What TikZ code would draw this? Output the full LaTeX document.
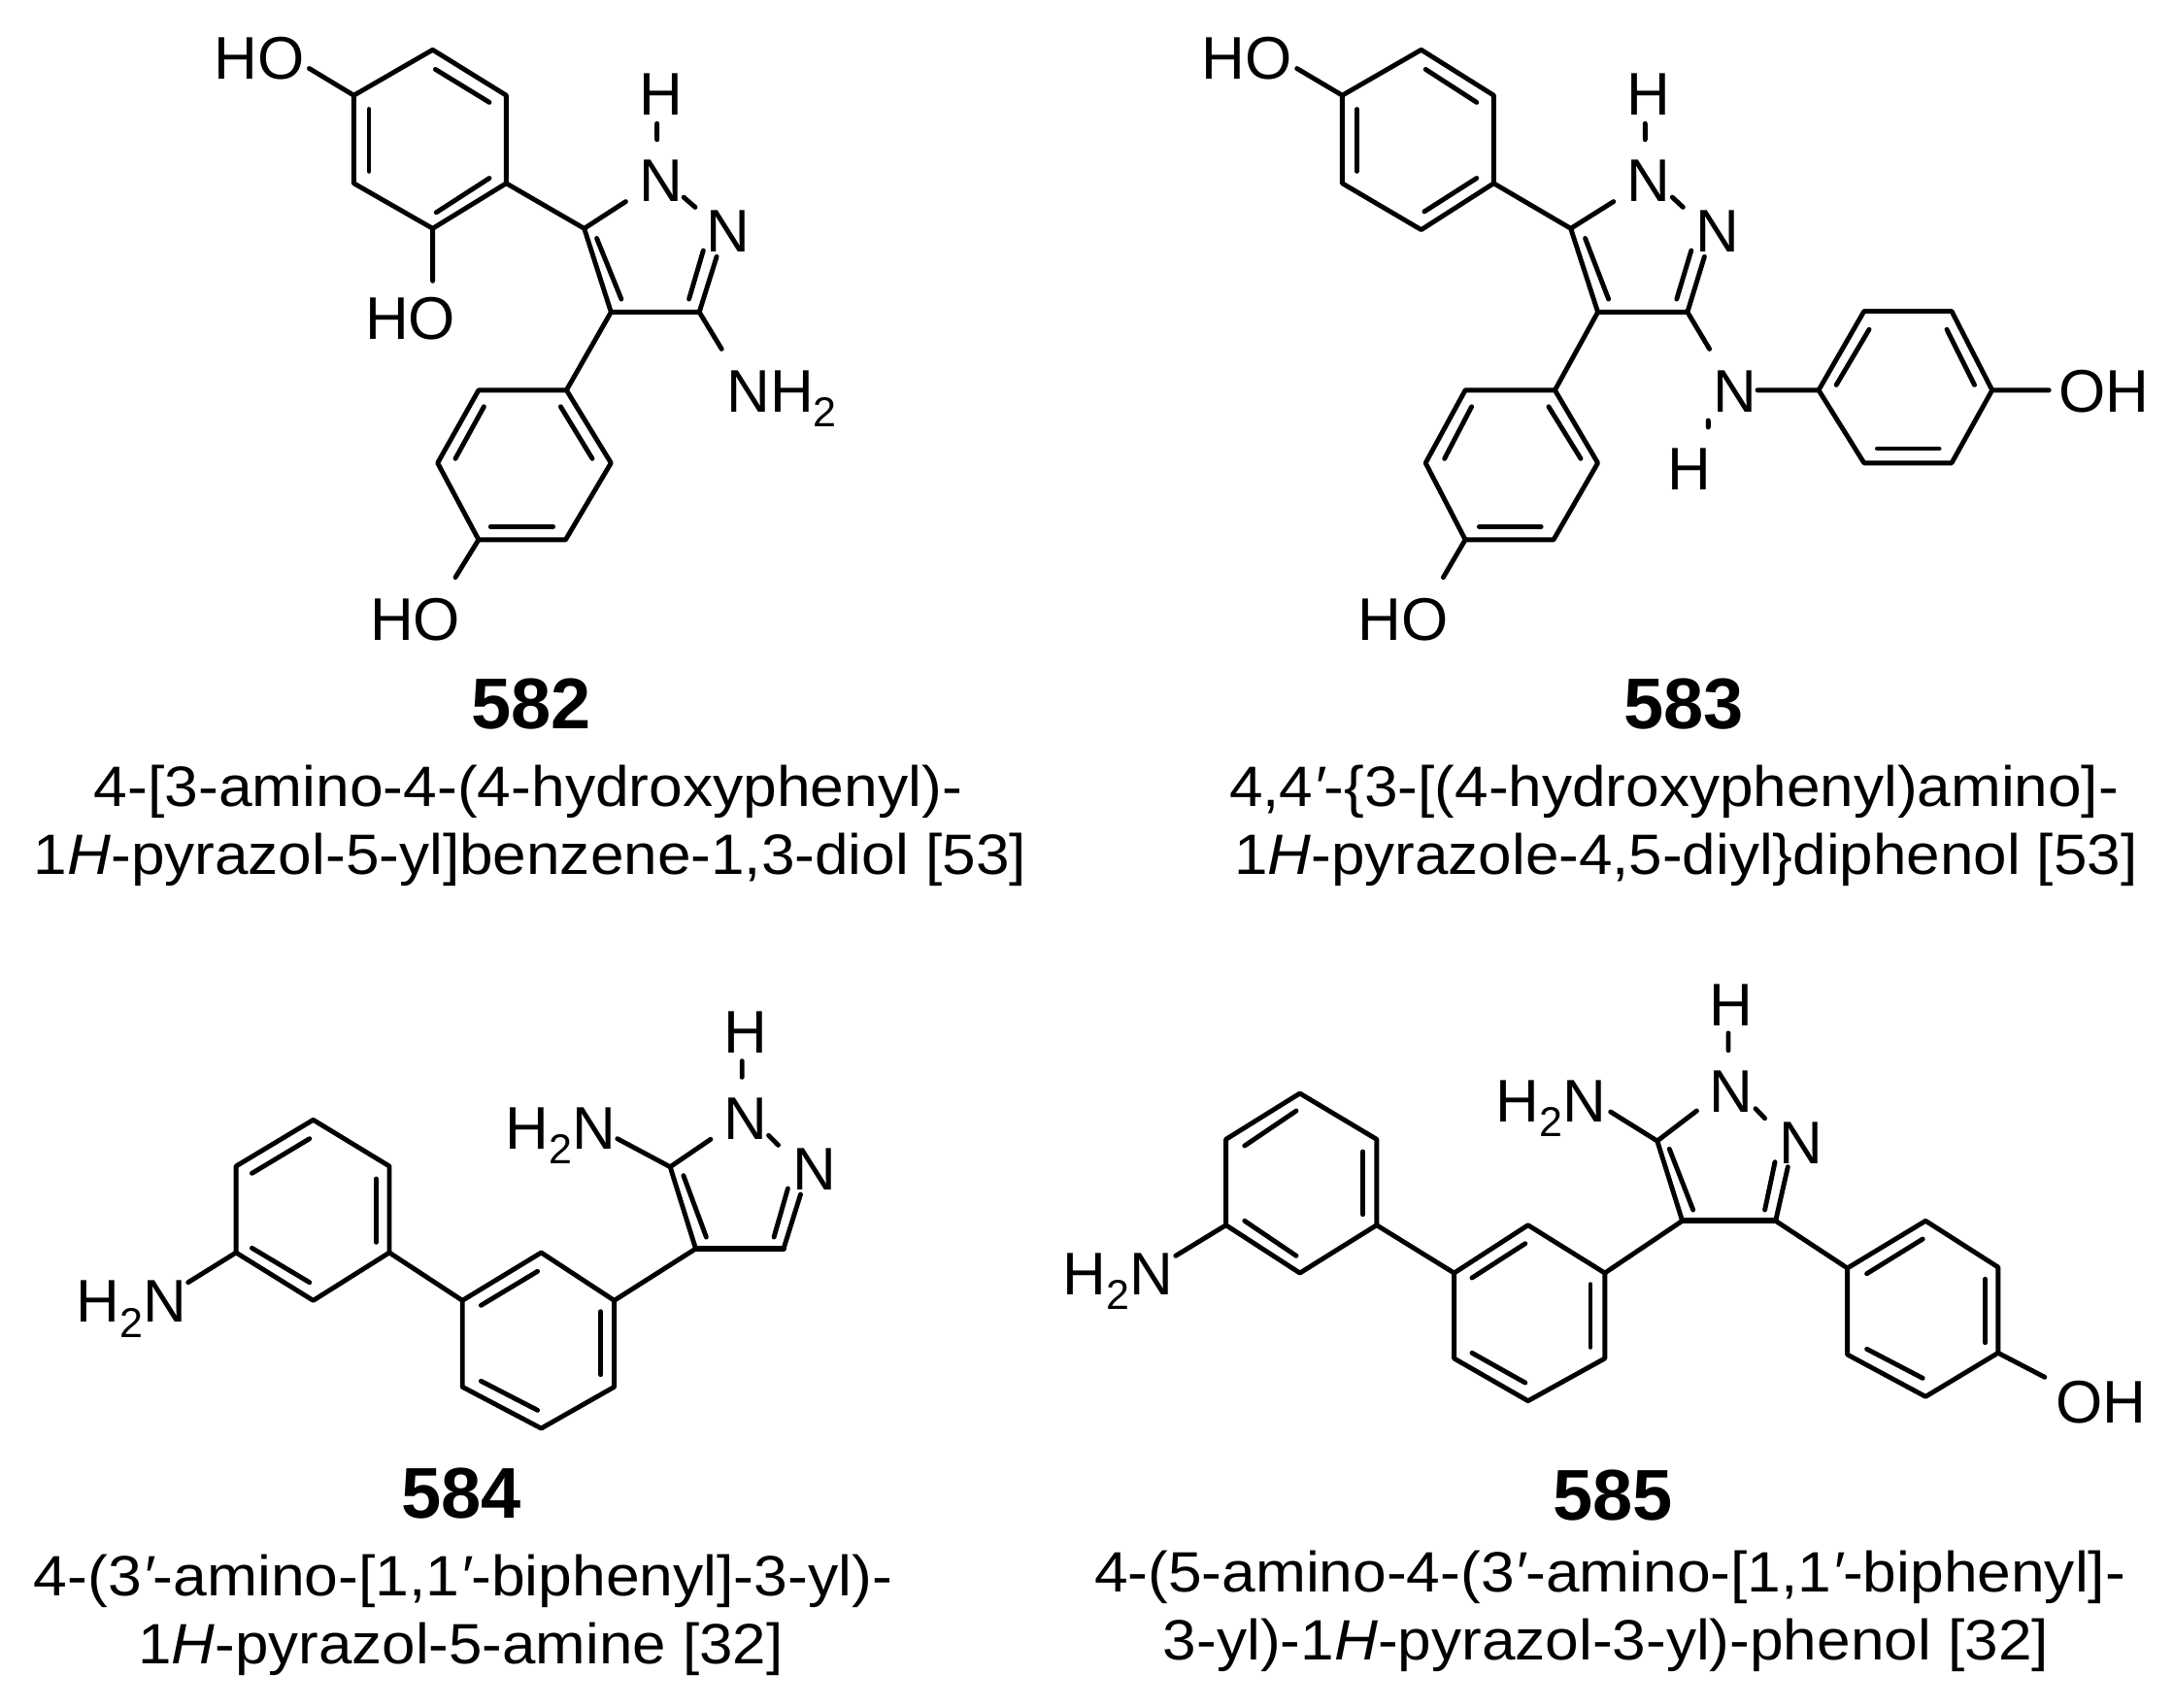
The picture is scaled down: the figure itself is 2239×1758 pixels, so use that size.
\documentclass[tikz,border=0pt]{standalone}
\usepackage{fontspec}
\usepackage{graphicx}
\setmainfont{Liberation Sans}
\newcommand{\pxsize}[1]{\fontsize{#1}{#1}\selectfont}
\newcommand{\subtwo}{\raisebox{-7.8pt}{\pxsize{21.5}2}}
\newcommand{\primemark}{{\itshape ′}}
\newcommand{\fitline}[2]{\resizebox{#1pt}{\height}{#2}}
\newcommand{\pts}[1]{\foreach \n/\x/\y in {#1} {\coordinate (\n) at (\x,\y);}}
\newcommand{\inn}[1]{\foreach \n/\a/\b/\c/\d in {#1} {\coordinate (\n s) at (\a,\b); \coordinate (\n e) at (\c,\d); \draw[bond] (\n s) -- (\n e);}}
\tikzset{
  bond/.style={line width=2.45pt,line cap=round,line join=round,black},
  heavybond/.style={line width=3pt,line cap=round,line join=round,black},
  atomlab/.style={font=\pxsize{31},inner sep=0pt,anchor=base,text=black},
  atomleft/.style={font=\pxsize{31},inner sep=0pt,anchor=base west,text=black},
  numlab/.style={font=\pxsize{37}\bfseries,inner sep=0pt,anchor=base,text=black},
  caplab/.style={font=\pxsize{29.3},inner sep=0pt,anchor=base,text=black}
}
\begin{document}
\begin{tikzpicture}[x=0.5pt,y=-0.5pt]
\path[use as bounding box,fill=white] (0,0) rectangle (2239,1758);

% ---------- 582 ----------
\pts{a1/445.6/51.3,a2/521.4/98.2,a3/521.4/188.8,a4/445.6/235.3,a5/364.4/188.8,a6/364.4/98.2,
 ao1/318.5/70.5,ao2/445.6/289.3,
 ap5/601.7/235.3,ap4/629.3/321.4,ap3/720.2/321.4,apn1/644.4/207.6,apn2/738.1/264.3,ann/743.2/359.4,
 ah1/676.6/127.2,ah2/676.6/143.8,ann1/704.1/203.1,ann2/716/213.4,
 b1/583.4/401.8,b2/629.3/476.8,b3/582.5/555.8,b4/492.9/555.8,b5/450.7/476.8,b6/492.9/401.8,bo/469/594.6}
\draw[bond] (a1)--(a2)--(a3)--(a4)--(a5)--(a6)--cycle;
\draw[bond] (a6)--(ao1) (a4)--(ao2) (a3)--(ap5)--(apn1) (ap5)--(ap4)--(ap3)--(apn2) (ap3)--(ann)
 (ah1)--(ah2) (ann1)--(ann2) (ap4)--(b1);
\draw[bond] (b1)--(b2)--(b3)--(b4)--(b5)--(b6)--cycle;
\draw[bond] (b4)--(bo);
\inn{ai1/448.4/71.4/504/105.4,ai2/380/112.5/380/176.3,ai3/449.3/218.8/504/183.5,
 ai4/614.6/245.5/639.9/308,ai5/709.6/308/724.3/258,
 bi1/577.4/418.8/610/472.3,bi2/505.3/542.4/569.6/542.4,bi3/498.4/418.8/469/472.3}
\node[atomlab] (aHO1) at (267,81) {HO};
\node[atomlab] (aHO2) at (422.7,349) {HO};
\node[atomlab] (aHO3) at (427.7,659.8) {HO};
\node[atomlab] (aH) at (680.5,118.3) {H};
\node[atomlab] (aN1) at (680.5,207.6) {N};
\node[atomlab] (aN2) at (750,259.8) {N};
\node[atomleft] (aNH2) at (748,424) {NH\subtwo};
\node[numlab] (n582) at (547,750) {582};
\node[caplab] (c582a) at (544,830) {\fitline{447}{4-[3-amino-4-(4-hydroxyphenyl)-}};
\node[caplab] (c582b) at (546,900) {\fitline{511}{1\textit{H}-pyrazol-5-yl]benzene-1,3-diol [53]}};

% ---------- 583 ----------
\pts{c1/1463.7/51.3,c2/1538.4/98.2,c3/1538.4/188.8,c4/1463.7/236.6,c5/1382.4/188.8,c6/1382.4/98.2,co/1335.7/70.5,
 cp5/1617.7/235.3,cp4/1645.6/321.4,cp3/1737.9/321.4,cpn1/1661.8/207.6,cpn2/1755.4/264.3,cnh/1760.6/359.4,
 ch1/1694.3/127.2,ch2/1694.3/143.8,cnn1/1722.3/203.1,cnn2/1733.3/213.4,
 cnr/1810/401.8,
 e1/1873/401.8,e2/1919.8/320.5,e3/2010/320.5,e4/2051.7/401.8,e5/2010/476.8,e6/1919.8/476.8,eo/2110.2/401.8,
 cnh1/1759.3/433,cnh2/1759.3/440,
 d1/1601.4/401.8,d2/1645.6/476.8,d3/1600/555.8,d4/1509.1/555.8,d5/1468.2/476.8,d6/1509.1/401.8,dd/1486.4/594.6}
\draw[bond] (c1)--(c2)--(c3)--(c4)--(c5)--(c6)--cycle;
\draw[bond] (c6)--(co) (c3)--(cp5)--(cpn1) (cp5)--(cp4)--(cp3)--(cpn2) (cp3)--(cnh)
 (ch1)--(ch2) (cnn1)--(cnn2) (cnr)--(e1) (e4)--(eo) (cnh1)--(cnh2) (cp4)--(d1) (d4)--(dd);
\draw[bond] (e1)--(e2)--(e3)--(e4)--(e5)--(e6)--cycle;
\draw[bond] (d1)--(d2)--(d3)--(d4)--(d5)--(d6)--cycle;
\inn{ci1/1468.2/71.4/1520.8/105.4,ci2/1397.4/112.5/1397.4/176.3,ci3/1466.9/217.9/1520.8/183.5,
 ci4/1632.6/245.5/1656.6/308,ci5/1726.8/308/1741.8/258,
 ei1/1925/339.3/1891.2/396.4,ei2/2005/339.3/2033.5/396.4,ei3/1933.4/462/1997.1/462,
 di1/1594.9/418.8/1628/472.3,di2/1523.4/542.4/1587.1/542.4,di3/1515.6/418.8/1487.7/472.3}
\node[atomlab] (cHO1) at (1284.3,81) {HO};
\node[atomlab] (cH) at (1697.6,118.3) {H};
\node[atomlab] (cN1) at (1697.6,207.6) {N};
\node[atomlab] (cN2) at (1768.4,259.8) {N};
\node[atomlab] (cN3) at (1787,424) {N};
\node[atomlab] (cH3) at (1740,504.5) {H};
\node[atomlab] (cOH) at (2167,424) {OH};
\node[atomlab] (cHO2) at (1444.8,659.8) {HO};
\node[numlab] (n583) at (1734,750) {583};
\node[caplab] (c583a) at (1724,830) {\fitline{458}{4,4\primemark-\{3-[(4-hydroxyphenyl)amino]-}};
\node[caplab] (c583b) at (1736.5,900) {\fitline{465}{1\textit{H}-pyrazole-4,5-diyl\}diphenol [53]}};

% ---------- 584 ----------
\pts{f1/322.6/1153.3,f2/401/1201,f3/401/1290,f4/322.6/1339.3,f5/243.1/1290,f6/243.1/1201,fn/193.7/1320.7,
 g1/557.4/1290,g2/632.6/1339.3,g3/632.6/1428.3,g4/557.4/1471,g5/476.2/1428.3,g6/476.2/1339.3,
 gp4/716.5/1286,gp3/807/1286,gpn2/824.5/1230,gp5/690.2/1201.7,gpn1/731.9/1173.3,gnh/635.8/1172.7,
 gh1/764.2/1092.7,gh2/764.2/1109.3,gnn1/791.6/1169.3,gnn2/801.5/1179.3}
\draw[bond] (f1)--(f2)--(f3)--(f4)--(f5)--(f6)--cycle;
\draw[bond] (g1)--(g2)--(g3)--(g4)--(g5)--(g6)--cycle;
\draw[bond] (f5)--(fn) (f3)--(g6) (g2)--(gp4) (gp3)--(gpn2) (gp5)--(gp4) (gp5)--(gpn1) (gp5)--(gnh)
 (gh1)--(gh2) (gnn1)--(gnn2);
\draw[heavybond] (gp4)--(gp3);
\inn{fi1/318.8/1172.7/259.5/1208.3,fi2/387.4/1214/387.4/1279.3,fi3/259.5/1285.3/318.8/1320.7,
 gi1/553.6/1309.3/495.4/1344.3,gi2/618.8/1350.7/618.8/1415.7,gi3/495.4/1422.3/553.6/1452.3,
 gi4/797.1/1274/811.4/1224,gi5/703.9/1210.7/727.4/1274}
\node[atomleft] (fNH2) at (78,1361.7) {H\subtwo N};
\node[atomleft] (gNH2) at (520.5,1183.3) {H\subtwo N};
\node[atomlab] (gN2) at (838.9,1225.7) {N};
\node[atomlab] (gN1) at (767.5,1173.3) {N};
\node[atomlab] (gH) at (767.5,1084.3) {H};
\node[numlab] (n584) at (475,1563.3) {584};
\node[caplab] (c584a) at (477,1643.3) {\fitline{442}{4-(3\primemark-amino-[1,1\primemark-biphenyl]-3-yl)-}};
\node[caplab] (c584b) at (474.5,1713.8) {\fitline{332}{1\textit{H}-pyrazol-5-amine [32]}};

% ---------- 585 ----------
\pts{h1/1338.7/1126,h2/1417.8/1173.3,h3/1417.8/1261.7,h4/1338.7/1311,h5/1262.6/1261.7,h6/1262.6/1173.3,hn/1210.8/1293.3,
 j1/1573.7/1261.7,j2/1652.8/1311,j3/1652.8/1399,j4/1573.7/1442.7,j5/1497.6/1399,j6/1497.6/1311,
 jp4/1732.6/1257.3,jp3/1828.7/1257.3,jpn2/1841.3/1201.7,jp5/1706.8/1175,jpn1/1747.4/1144,jnh/1658.7/1145,
 jh1/1780/1064,jh2/1780/1081.7,jnn1/1808/1141.7,jnn2/1817.6/1151.7,
 k1/1983.2/1257.3,k2/2057.8/1305,k3/2057.8/1393.3,k4/1983.2/1438.3,k5/1902.6/1395,k6/1902.6/1306,ko/2105.9/1418.3}
\draw[bond] (h1)--(h2)--(h3)--(h4)--(h5)--(h6)--cycle;
\draw[bond] (j1)--(j2)--(j3)--(j4)--(j5)--(j6)--cycle;
\draw[bond] (k1)--(k2)--(k3)--(k4)--(k5)--(k6)--cycle;
\draw[bond] (h5)--(hn) (h3)--(j6) (j2)--(jp4) (jp3)--(jpn2) (jp5)--(jp4) (jp5)--(jpn1) (jp5)--(jnh)
 (jh1)--(jh2) (jnn1)--(jnn2) (jp3)--(k6) (k3)--(ko);
\draw[heavybond] (jp4)--(jp3);
\inn{hi1/1335/1144/1281.8/1180,hi2/1403.7/1186/1403.7/1250.7,hi3/1281.8/1257.3/1335/1293.3,
 ji1/1570.8/1280.7/1516/1316,ji2/1638/1322.7/1638/1387.3,ji3/1516/1393.3/1570.8/1424,
 ji4/1817.6/1246/1828/1196.7,ji5/1719.3/1183.3/1743.7/1246,
 ki1/1980.2/1276/1922.6/1311.7,ki2/2044.5/1317.3/2044.5/1382.7,ki3/1922.6/1389.3/1980.2/1419.3}
\node[atomleft] (hNH2) at (1094,1333.3) {H\subtwo N};
\node[atomleft] (jNH2) at (1540,1155) {H\subtwo N};
\node[atomlab] (jN2) at (1855,1198.3) {N};
\node[atomlab] (jN1) at (1783.3,1145) {N};
\node[atomlab] (jH) at (1783.3,1056.7) {H};
\node[atomlab] (kOH) at (2164,1465) {OH};
\node[numlab] (n585) at (1661,1565) {585};
\node[caplab] (c585a) at (1658,1639.5) {\fitline{531}{4-(5-amino-4-(3\primemark-amino-[1,1\primemark-biphenyl]-}};
\node[caplab] (c585b) at (1654,1709.5) {\fitline{456}{3-yl)-1\textit{H}-pyrazol-3-yl)-phenol [32]}};
\end{tikzpicture}
\end{document}
